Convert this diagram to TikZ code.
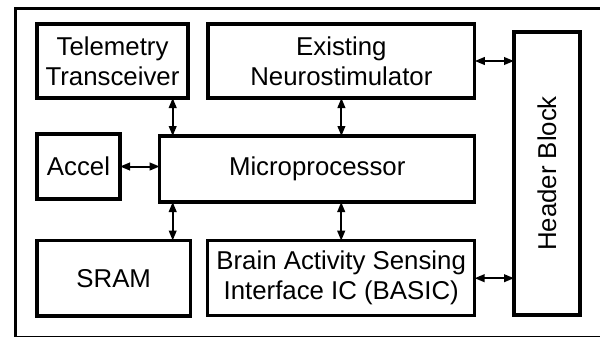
\documentclass[tikz,border=0pt]{standalone}
\usepackage{fontspec}
\setmainfont{Liberation Sans}
\usetikzlibrary{positioning,arrows.meta}

\begin{document}
\begin{tikzpicture}
    [ x = .5pt, y = -.5pt
    , block/.style =
      { draw, line width=1.6pt, inner sep=0pt, outer sep=0pt, align=center
      , font=\fontsize{12.9}{15}\selectfont }
    , link/.style =
      { line width=1pt, {Triangle[length=5pt,width=3.8pt]}-{Triangle[length=5pt,width=3.8pt]} }
    , frame/.style =
      { line width=1.5pt }
    ]
    \useasboundingbox (0,0) rectangle (600,337);
    \draw [frame] (15.7,8.6) rectangle (620,337.6);

    \node [block, minimum width=75.5pt, minimum height=37pt] (tele) at (112.5,61) {Telemetry\\Transceiver};
    \node [block, minimum width=133.4pt, minimum height=37pt] (neuro) [right=10pt of tele] {Existing\\Neurostimulator};
    \node [block, minimum width=41.5pt, minimum height=32.5pt] (accel) at (78.5,166.5) {Accel};
    \node [block, minimum width=157.5pt, minimum height=33pt] (micro) at (317.2,169) {Microprocessor};
    \node [block, minimum width=76.7pt, minimum height=37.7pt] (sram) at (113.7,278.2) {SRAM};
    \node [block, minimum width=133.4pt, minimum height=37.5pt] (basic) [right=8.7pt of sram] {Brain Activity Sensing\\Interface IC (BASIC)};
    \node [block, minimum width=33pt, minimum height=141.5pt] (header) at (547,173.5) {\rotatebox{90}{Header Block}};

    \draw [link] ([xshift=6.5pt]micro.north west) -- ([xshift=6.5pt]micro.north west |- tele.south);
    \draw [link] ([xshift=6.5pt]micro.south west) -- ([xshift=6.5pt]micro.south west |- sram.north);
    \draw [link] (neuro.south) -- (neuro.south |- micro.north);
    \draw [link] (basic.north) -- (basic.north |- micro.south);
    \draw [link] (accel.east) -- (accel.east -| micro.west);
    \draw [link] (neuro.east) -- (neuro.east -| header.west);
    \draw [link] (basic.east) -- (basic.east -| header.west);
  \end{tikzpicture}
\end{document}
